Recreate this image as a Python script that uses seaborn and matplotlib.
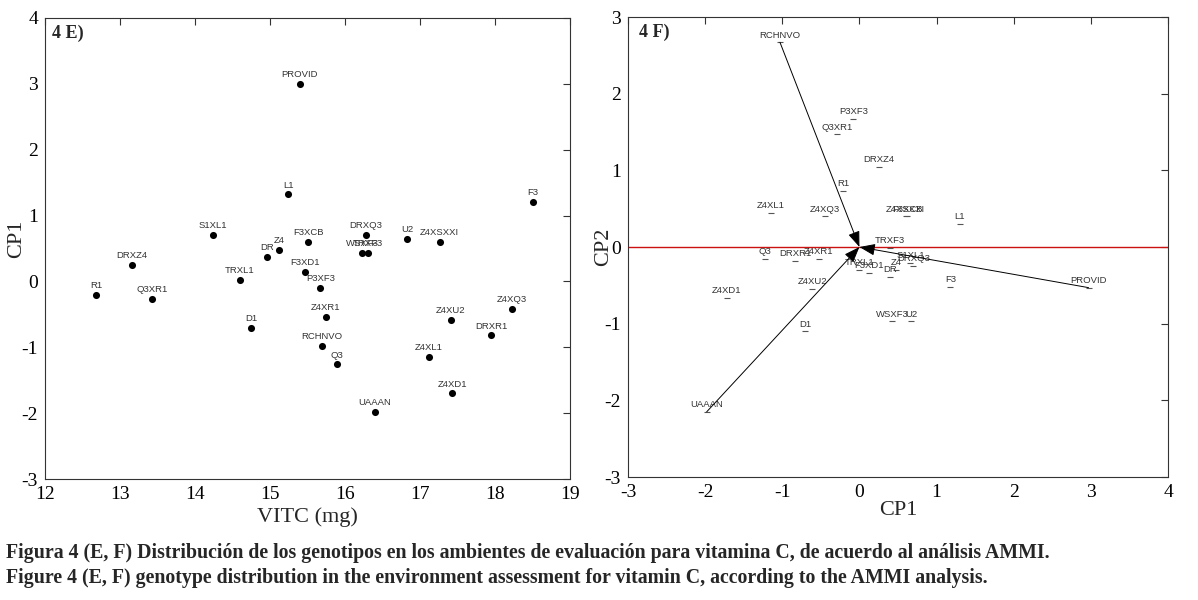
import matplotlib
matplotlib.use('Agg')
import matplotlib.pyplot as plt
import seaborn as sns
import pandas as pd
from matplotlib import font_manager

# ---------------- data ----------------
genotypes = ['PROVID', 'L1', 'F3', 'S1XL1', 'DRXZ4', 'F3XCB', 'DRXQ3', 'U2',
             'Z4XSXXI', 'WSXF3', 'TRXF3', 'DR', 'Z4', 'TRXL1', 'F3XD1', 'P3XF3',
             'R1', 'Q3XR1', 'Z4XR1', 'D1', 'RCHNVO', 'Q3', 'Z4XU2', 'Z4XQ3',
             'DRXR1', 'Z4XL1', 'Z4XD1', 'UAAAN']
# panel E: vitamin C (mg) vs CP1
vitc = [15.40, 15.24, 18.50, 14.24, 13.16, 15.51, 16.28, 16.83,
        17.26, 16.23, 16.31, 14.96, 15.12, 14.60, 15.47, 15.67,
        12.68, 13.43, 15.74, 14.75, 15.69, 15.89, 17.41, 18.22,
        17.95, 17.12, 17.43, 16.40]
cp1_e = [3.00, 1.32, 1.21, 0.71, 0.25, 0.60, 0.70, 0.65,
         0.60, 0.43, 0.43, 0.37, 0.48, 0.02, 0.14, -0.10,
         -0.21, -0.26, -0.54, -0.70, -0.98, -1.26, -0.58, -0.42,
         -0.82, -1.15, -1.70, -1.98]
# panel F: CP1 vs CP2 biplot
cp1_f = [2.97, 1.30, 1.18, 0.66, 0.25, 0.62, 0.70, 0.67,
         0.60, 0.42, 0.39, 0.40, 0.48, 0.00, 0.13, -0.08,
         -0.21, -0.29, -0.53, -0.70, -1.03, -1.23, -0.61, -0.45,
         -0.83, -1.15, -1.72, -1.98]
cp2_f = [-0.53, 0.30, -0.52, -0.21, 1.04, 0.40, -0.25, -0.97,
         0.40, -0.97, -0.01, -0.39, -0.30, -0.30, -0.34, 1.67,
         0.73, 1.47, -0.16, -1.10, 2.67, -0.15, -0.55, 0.40,
         -0.18, 0.45, -0.66, -2.15]
environments = ['RCHNVO', 'UAAAN', 'PROVID']

caption1 = ('Figura 4 (E, F) Distribución de los genotipos en los ambientes de evaluación '
            'para vitamina C, de acuerdo al análisis AMMI.')
caption2 = ('Figure 4 (E, F) genotype distribution in the environment assessment for '
            'vitamin C, according to the AMMI analysis.')

df = pd.DataFrame({'name': genotypes, 'VITC': vitc, 'CP1E': cp1_e,
                   'CP1F': cp1_f, 'CP2F': cp2_f})

# ---------------- style ----------------
sns.set_style('white')
plt.rcParams['font.family'] = ['Liberation Serif', 'DejaVu Serif']
plt.rcParams['axes.unicode_minus'] = False
names = {f.name for f in font_manager.fontManager.ttflist}
lab_font = 'Liberation Sans Narrow' if 'Liberation Sans Narrow' in names else 'Liberation Sans'

W, H = 1198, 600
fig = plt.figure(figsize=(W / 100, H / 100), dpi=100)
axE = fig.add_axes([45 / W, 1 - 479 / H, 525 / W, 461 / H])
axF = fig.add_axes([628 / W, 1 - 477 / H, 540 / W, 460 / H])

for ax in (axE, axF):
    for sp in ax.spines.values():
        sp.set_color('#333333')
        sp.set_linewidth(0.8)
    ax.tick_params(direction='in', top=True, right=True, length=5, width=0.8,
                   labelsize=14, pad=5, colors='#333333', labelcolor='black')

# ---------------- panel E ----------------
sns.scatterplot(data=df, x='VITC', y='CP1E', ax=axE, color='black', s=26,
                linewidth=0, legend=False, zorder=3)
for _, r in df.iterrows():
    axE.annotate(r['name'], (r['VITC'], r['CP1E']), xytext=(0, 3.5),
                 textcoords='offset points', ha='center', va='bottom',
                 fontsize=6.8, family=lab_font, color='#333333')
axE.set_xlim(12, 19)
axE.set_ylim(-3, 4)
axE.set_xticks(range(12, 20))
axE.set_yticks(range(-3, 5))
axE.set_xlabel('VITC (mg)', fontsize=16, labelpad=3)
axE.set_ylabel('CP1', fontsize=16)
axE.yaxis.set_label_coords(-19 / 525, 0.52)
axE.annotate('4 E)', (0, 1), xycoords='axes fraction', xytext=(5, -5),
             textcoords='offset points', ha='left', va='top', fontsize=13,
             fontweight='bold')

# ---------------- panel F ----------------
axF.axhline(0, color='#cc1111', lw=1.0, zorder=1)
sns.scatterplot(data=df, x='CP1F', y='CP2F', ax=axF, marker='_', s=14,
                color='#555555', linewidth=0.8, legend=False, zorder=3)
env = df[df['name'].isin(environments)]
for _, r in env.iterrows():
    axF.annotate('', xy=(0, 0), xytext=(r['CP1F'], r['CP2F']),
                 arrowprops=dict(arrowstyle='-|>,head_length=0.8,head_width=0.3',
                                 mutation_scale=12, color='black', lw=0.7,
                                 shrinkA=0, shrinkB=0), zorder=4)
for _, r in df.iterrows():
    axF.annotate(r['name'], (r['CP1F'], r['CP2F']), xytext=(0, 2),
                 textcoords='offset points', ha='center', va='bottom',
                 fontsize=6.8, family=lab_font, color='#333333')
axF.set_xlim(-3, 4)
axF.set_ylim(-3, 3)
axF.set_xticks(range(-3, 5))
axF.set_yticks(range(-3, 4))
axF.set_xlabel('CP1', fontsize=16, labelpad=0)
axF.set_ylabel('CP2', fontsize=16)
axF.yaxis.set_label_coords(-15 / 540, 0.5)
axF.annotate('4 F)', (0, 1), xycoords='axes fraction', xytext=(8, -5),
             textcoords='offset points', ha='left', va='top', fontsize=13,
             fontweight='bold')

# ---------------- caption ----------------
fig.canvas.draw()
renderer = fig.canvas.get_renderer()
t1 = fig.text(6 / W, 1 - 553 / H, caption1, fontsize=13, fontweight='bold', va='center')
t2 = fig.text(6 / W, 1 - 578 / H, caption2, fontsize=13, fontweight='bold', va='center')
target = 1040
w1 = t1.get_window_extent(renderer).width
fs = 13 * target / w1
t1.set_fontsize(fs)
t2.set_fontsize(fs)

fig.savefig('out.png', dpi=100)
